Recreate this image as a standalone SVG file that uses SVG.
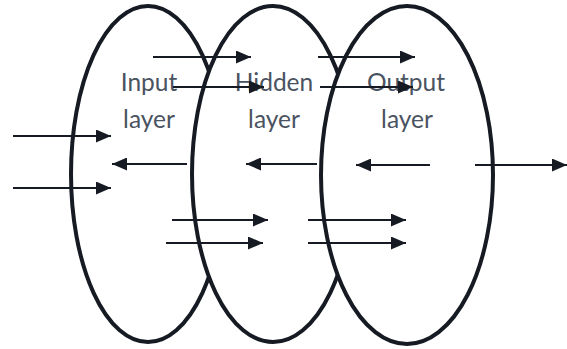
<svg xmlns="http://www.w3.org/2000/svg" width="567" height="349" viewBox="0 0 567 349">
  <style>
    .layer-shape { fill: #ffffff; stroke: #161a22; stroke-width: 4; }
    .label { font-family: Lato, "Open Sans", "Liberation Sans", sans-serif; font-size: 24.5px; fill: #4a5361; text-anchor: middle; }
    .flow { stroke: #161a22; stroke-width: 2; fill: none; marker-end: url(#head); }
  </style>
  <defs>
    <marker id="head" viewBox="0 0 15 13" refX="15" refY="6.5" markerWidth="15" markerHeight="13" markerUnits="userSpaceOnUse" orient="auto">
      <path d="M0,0 L15,6.5 L0,13 Z" fill="#161a22"/>
    </marker>
  </defs>

  <rect width="567" height="349" fill="#ffffff"/>

  <g id="input-layer">
    <ellipse class="layer-shape" cx="148" cy="174" rx="77" ry="168"/>
  </g>
  <g id="hidden-layer">
    <ellipse class="layer-shape" cx="273" cy="174" rx="81" ry="168"/>
  </g>
  <g id="output-layer">
    <ellipse class="layer-shape" cx="407" cy="175" rx="86" ry="169"/>
  </g>

  <g id="labels">
    <text class="label" x="149" y="91">Input</text>
    <text class="label" x="149" y="128">layer</text>
    <text class="label" x="274" y="91">Hidden</text>
    <text class="label" x="274" y="128">layer</text>
    <text class="label" x="406" y="91">Output</text>
    <text class="label" x="407" y="128">layer</text>
  </g>

  <g id="connectors">
    <!-- inputs entering from the left -->
    <line class="flow" x1="13" y1="136" x2="111" y2="136"/>
    <line class="flow" x1="13" y1="188" x2="111" y2="188"/>
    <!-- forward links across the top -->
    <line class="flow" x1="153" y1="57" x2="251" y2="57"/>
    <line class="flow" x1="173" y1="87" x2="264" y2="87"/>
    <line class="flow" x1="318" y1="57" x2="415" y2="57"/>
    <line class="flow" x1="320" y1="87" x2="413" y2="87"/>
    <!-- backward links -->
    <line class="flow" x1="187" y1="164" x2="112" y2="164"/>
    <line class="flow" x1="317" y1="164" x2="246" y2="164"/>
    <line class="flow" x1="430" y1="165" x2="356" y2="165"/>
    <!-- output leaving to the right -->
    <line class="flow" x1="475" y1="165" x2="567" y2="165"/>
    <!-- forward links across the bottom -->
    <line class="flow" x1="172" y1="220" x2="268" y2="220"/>
    <line class="flow" x1="166" y1="243" x2="263" y2="243"/>
    <line class="flow" x1="308" y1="220" x2="406" y2="220"/>
    <line class="flow" x1="308" y1="243" x2="406" y2="243"/>
  </g>
</svg>
